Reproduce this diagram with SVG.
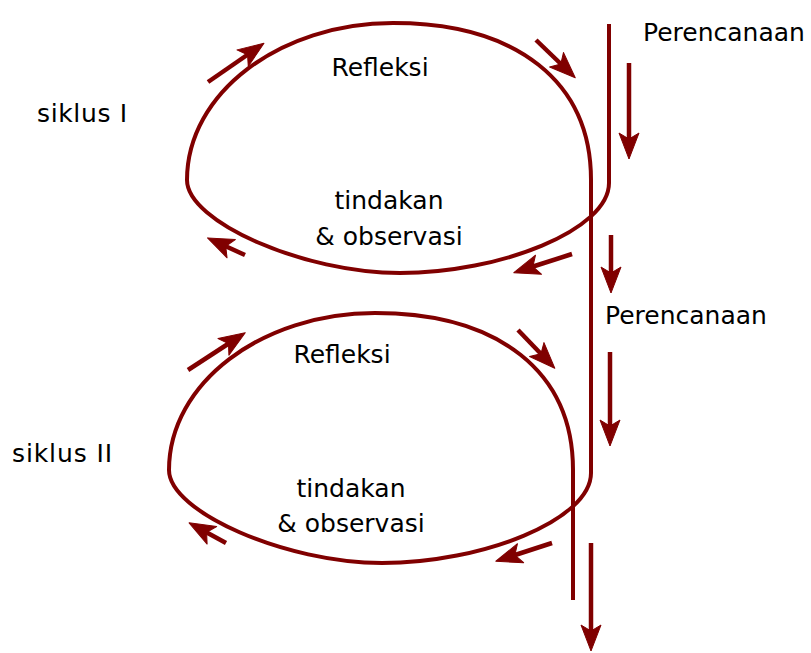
<svg xmlns="http://www.w3.org/2000/svg" width="811" height="653" viewBox="0 0 811 653">
<style>
.loop{fill:none;stroke:#800000;stroke-width:4;stroke-linejoin:round}
.arr{fill:none;stroke:#800000;stroke-width:4.5;marker-end:url(#ah)}
.t{font-family:"DejaVu Sans","Liberation Sans",sans-serif;font-size:25px;fill:#000}
.c{text-anchor:middle}
</style>
<defs>
<marker id="ah" markerUnits="userSpaceOnUse" orient="auto" refX="-17" refY="0" markerWidth="30" markerHeight="24" overflow="visible">
<path d="M0,0 L-26,-10 L-20,0 L-26,10 Z" fill="#800000" stroke="#800000" stroke-width="1" stroke-linejoin="round"/>
</marker>
</defs>
<rect width="811" height="653" fill="#fff"/>
<g id="connectors">
<path id="cycle-path" class="loop" d="M609,24 V183 C609,230 500,273 400,273 C304,273 187,222 187,180 C187,93 280,23 393,23 C517,23 591,82 591,180 V473 C591,520 482,563 382,563 C286,563 169,512 169,470 C169,383 262,313 375,313 C499,313 573,372 573,470 V600"/>
<line class="arr" x1="536" y1="40" x2="563" y2="66"/>
<line class="arr" x1="208" y1="82" x2="250" y2="53"/>
<line class="arr" x1="245" y1="255" x2="223" y2="245"/>
<line class="arr" x1="572" y1="254" x2="530" y2="267.5"/>
<line class="arr" x1="629" y1="63" x2="629" y2="142"/>
<line class="arr" x1="611" y1="235" x2="611" y2="276"/>
<line class="arr" x1="188" y1="370" x2="231" y2="342"/>
<line class="arr" x1="518" y1="330" x2="543" y2="356"/>
<line class="arr" x1="226" y1="543" x2="204" y2="531"/>
<line class="arr" x1="552" y1="543" x2="512" y2="556"/>
<line class="arr" x1="610" y1="352" x2="610" y2="429"/>
<line class="arr" x1="591" y1="543" x2="591" y2="634"/>
</g>
<g id="perencanaan-1"><text class="t" x="643" y="41">Perencanaan</text></g>
<g id="perencanaan-2"><text class="t" x="605" y="324">Perencanaan</text></g>
<g id="siklus-1"><text class="t" x="37" y="122" textLength="90">siklus I</text></g>
<g id="siklus-2"><text class="t" x="12" y="462" textLength="100">siklus II</text></g>
<g id="refleksi-1"><text class="t c" x="380" y="76">Refleksi</text></g>
<g id="tindakan-1"><text class="t c" x="389" y="209">tindakan</text><text class="t c" x="389" y="245">&amp; observasi</text></g>
<g id="refleksi-2"><text class="t c" x="342" y="363">Refleksi</text></g>
<g id="tindakan-2"><text class="t c" x="351" y="497">tindakan</text><text class="t c" x="351" y="532">&amp; observasi</text></g>
</svg>
